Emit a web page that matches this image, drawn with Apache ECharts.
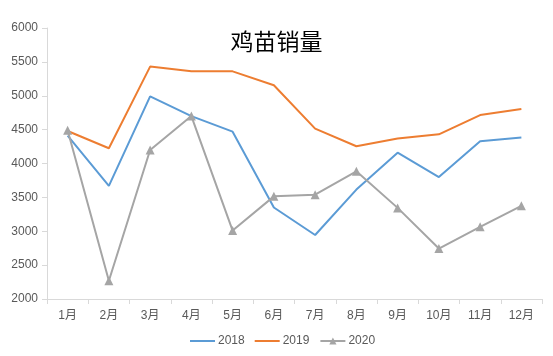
<!DOCTYPE html>
<html>
<head>
<meta charset="utf-8">
<script src="https://cdn.jsdelivr.net/npm/echarts@6/dist/echarts.min.js"></script>
<style>html,body{margin:0;padding:0;background:#fff;}#c{width:553px;height:356px;}</style>
</head>
<body>
<div id="c"></div>
<script>
const categories = ['1月','2月','3月','4月','5月','6月','7月','8月','9月','10月','11月','12月'];
const s2018 = [4410, 3670, 4990, 4700, 4470, 3350, 2945, 3615, 4160, 3800, 4330, 4385];
const s2019 = [4480, 4225, 5430, 5360, 5360, 5155, 4515, 4255, 4370, 4430, 4715, 4805];
const s2020 = [4490, 2270, 4200, 4700, 3010, 3515, 3540, 3885, 3345, 2745, 3065, 3375];
const yTicks = {min: 2000, max: 6000, interval: 500};

const chart = echarts.init(document.getElementById('c'));
const axisColor = '#d9d9d9';
const textColor = '#595959';
const font = '"Liberation Sans", "Noto Sans CJK SC", sans-serif';
const lineIcon = 'path://M0,0H25V2H0Z';
chart.setOption({
  animation: false,
  title: {
    text: '鸡苗销量', left: 'center', top: 25,
    textStyle: {fontFamily: '"Noto Sans CJK SC", serif', fontSize: 23, fontWeight: 'normal', color: '#000'}
  },
  legend: {
    bottom: 4, left: 185, itemWidth: 25, itemHeight: 9, itemGap: 10,
    textStyle: {color: textColor, fontSize: 12, fontFamily: font, padding: [0, 0, 0, -2]},
    data: [{name: '2018', icon: lineIcon}, {name: '2019', icon: lineIcon}, {name: '2020'}]
  },
  grid: {left: 47, right: 11, top: 28, bottom: 57, containLabel: false},
  xAxis: {
    type: 'category', data: categories, boundaryGap: true,
    axisLine: {lineStyle: {color: axisColor, width: 1}},
    axisTick: {show: true, length: 5, lineStyle: {color: axisColor}},
    axisLabel: {color: textColor, fontSize: 12, margin: 11, fontFamily: font}
  },
  yAxis: {
    type: 'value', min: yTicks.min, max: yTicks.max, interval: yTicks.interval,
    axisLine: {show: true, lineStyle: {color: axisColor, width: 1}},
    axisTick: {show: true, length: 5, lineStyle: {color: axisColor}},
    splitLine: {show: false},
    axisLabel: {color: textColor, fontSize: 12, margin: 9, fontFamily: font, formatter: function (v) { return String(v); }}
  },
  series: [
    {name: '2018', type: 'line', data: s2018, symbol: 'none', lineStyle: {color: '#5B9BD5', width: 2}, itemStyle: {color: '#5B9BD5'}},
    {name: '2019', type: 'line', data: s2019, symbol: 'none', lineStyle: {color: '#ED7D31', width: 2}, itemStyle: {color: '#ED7D31'}},
    {name: '2020', type: 'line', data: s2020, symbol: 'triangle', symbolSize: 9, lineStyle: {color: '#A5A5A5', width: 2}, itemStyle: {color: '#A5A5A5'}}
  ]
});
</script>
</body>
</html>
